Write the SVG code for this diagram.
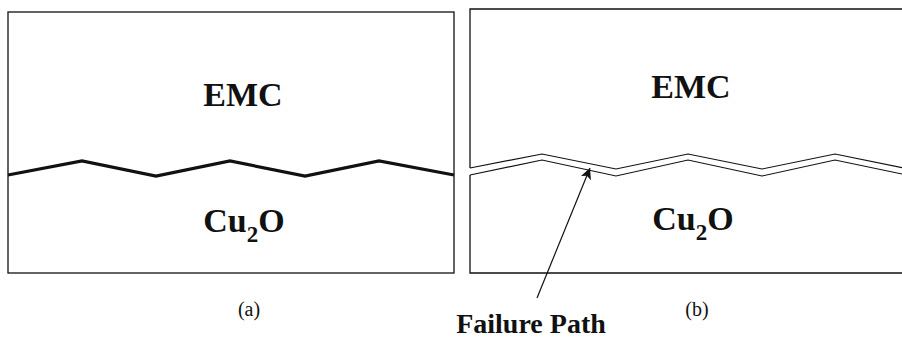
<svg xmlns="http://www.w3.org/2000/svg" width="902" height="338" viewBox="0 0 902 338">
<style>
.edge{fill:none;stroke:#111;stroke-width:1.3}
.crack{fill:none;stroke:#111;stroke-width:1.2;stroke-linejoin:miter}
.iface{fill:none;stroke:#111;stroke-width:3.2;stroke-linejoin:miter}
.lbl{font-family:"Liberation Serif","Times New Roman",serif;font-weight:bold;font-size:34px;fill:#111;text-anchor:middle}
.cap{font-family:"Liberation Serif","Times New Roman",serif;font-size:20px;fill:#111;text-anchor:middle}
.fp{font-family:"Liberation Serif","Times New Roman",serif;font-weight:bold;font-size:28px;fill:#111;text-anchor:middle}
</style>
<defs>
<marker id="ah" viewBox="0 0 10 10" refX="10" refY="5" markerWidth="11" markerHeight="11" markerUnits="userSpaceOnUse" orient="auto">
<path d="M0,0 L10,5 L0,10 L2.5,5 Z" fill="#111"/>
</marker>
</defs>
<g id="panel-a">
<rect x="8" y="12" width="446" height="261" class="edge"/>
<polyline class="iface" points="8,175 82,161 156,176 230,161 305,176 379,161 454,175"/>
<text class="lbl" x="243" y="106">EMC</text>
<text class="lbl" x="244" y="232">Cu<tspan font-size="23" dy="10">2</tspan><tspan dy="-10">O</tspan></text>
<text class="cap" x="249" y="316">(a)</text>
</g>
<g id="panel-b">
<polyline class="edge" points="902,9 470,9 470,168"/>
<polyline class="edge" points="470,175 470,273 902,273"/>
<polyline class="crack" points="470,168 542,154 616,169 688,154 762,169 835,154 902,167.6"/>
<polyline class="crack" points="470,175 542,160 616,176 688,160 762,176 835,160 902,174"/>
<text class="lbl" x="691" y="98">EMC</text>
<text class="lbl" x="693" y="230">Cu<tspan font-size="23" dy="10">2</tspan><tspan dy="-10">O</tspan></text>
<text class="cap" x="697" y="316">(b)</text>
</g>
<g id="failure-path">
<text class="fp" x="531" y="333">Failure Path</text>
</g>
<g id="connectors">
<line x1="537" y1="298" x2="590" y2="168" stroke="#111" stroke-width="1.2" marker-end="url(#ah)"/>
</g>
</svg>
